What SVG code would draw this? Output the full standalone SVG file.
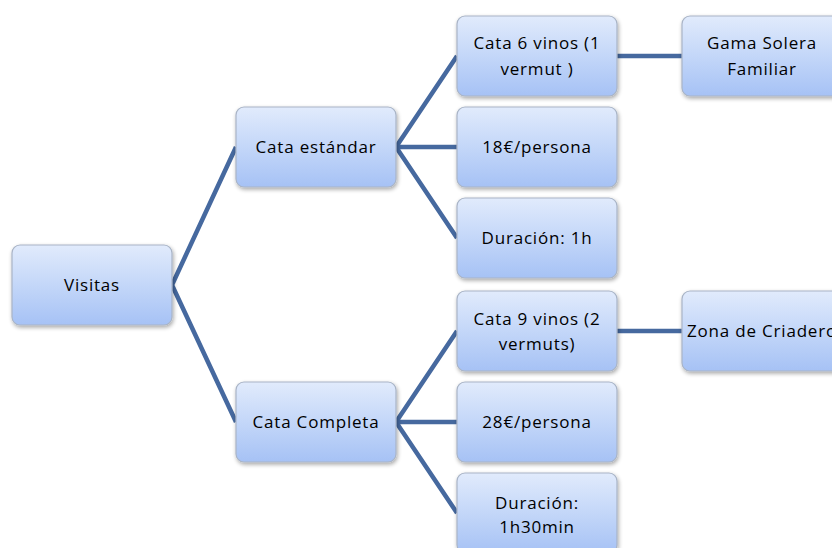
<svg xmlns="http://www.w3.org/2000/svg" width="832" height="548" viewBox="0 0 832 548">
<defs>
<linearGradient id="g" x1="0" y1="0" x2="0" y2="1">
<stop offset="0" stop-color="#e1ebfc"/>
<stop offset="1" stop-color="#a6c2f5"/>
</linearGradient>
<filter id="sh" x="-10%" y="-10%" width="125%" height="130%">
<feGaussianBlur in="SourceAlpha" stdDeviation="2"/>
<feOffset dx="1" dy="2" result="b"/>
<feComponentTransfer><feFuncA type="linear" slope="0.35"/></feComponentTransfer>
<feMerge><feMergeNode/><feMergeNode in="SourceGraphic"/></feMerge>
</filter>
</defs>
<style>
.box{fill:url(#g);stroke:#a9b4c6;stroke-width:1.2;filter:url(#sh)}
.t{font-family:"Open Sans","Liberation Sans",sans-serif;font-size:17px;letter-spacing:0.8px;fill:#000;text-anchor:middle}
.c{stroke:#46699f;stroke-width:4.5;fill:none}
</style>
<rect width="832" height="548" fill="#fff"/>
<g id="connectors">
<path class="c" d="M172 285 L236 147 M172 285 L236 422"/>
<path class="c" d="M396 147 L457 56 M396 147 L457 147 M396 147 L457 238"/>
<path class="c" d="M396 422 L457 331 M396 422 L457 422 M396 422 L457 513"/>
<path class="c" d="M617 56 L682 56 M617 331 L682 331"/>
</g>
<g id="visitas"><rect class="box" x="12" y="245" width="160" height="80" rx="8"/><text class="t" x="92" y="291">Visitas</text></g>
<g id="cata-estandar"><rect class="box" x="236" y="107" width="160" height="80" rx="8"/><text class="t" x="316" y="153">Cata estándar</text></g>
<g id="cata-completa"><rect class="box" x="236" y="382" width="160" height="80" rx="8"/><text class="t" x="316" y="428">Cata Completa</text></g>
<g id="cata6"><rect class="box" x="457" y="16" width="160" height="80" rx="8"/><text class="t" x="537" y="49">Cata 6 vinos (1</text><text class="t" x="537" y="75">vermut )</text></g>
<g id="precio18"><rect class="box" x="457" y="107" width="160" height="80" rx="8"/><text class="t" x="537" y="153">18€/persona</text></g>
<g id="duracion1h"><rect class="box" x="457" y="198" width="160" height="80" rx="8"/><text class="t" x="537" y="244">Duración: 1h</text></g>
<g id="cata9"><rect class="box" x="457" y="291" width="160" height="80" rx="8"/><text class="t" x="537" y="325">Cata 9 vinos (2</text><text class="t" x="537" y="350">vermuts)</text></g>
<g id="precio28"><rect class="box" x="457" y="382" width="160" height="80" rx="8"/><text class="t" x="537" y="428">28€/persona</text></g>
<g id="duracion130"><rect class="box" x="457" y="473" width="160" height="80" rx="8"/><text class="t" x="537" y="509">Duración:</text><text class="t" x="537" y="533">1h30min</text></g>
<g id="gama"><rect class="box" x="682" y="16" width="160" height="80" rx="8"/><text class="t" x="762" y="49">Gama Solera</text><text class="t" x="762" y="75">Familiar</text></g>
<g id="zona"><rect class="box" x="682" y="291" width="160" height="80" rx="8"/><text class="t" x="762" y="337">Zona de Criadero</text></g>
</svg>
